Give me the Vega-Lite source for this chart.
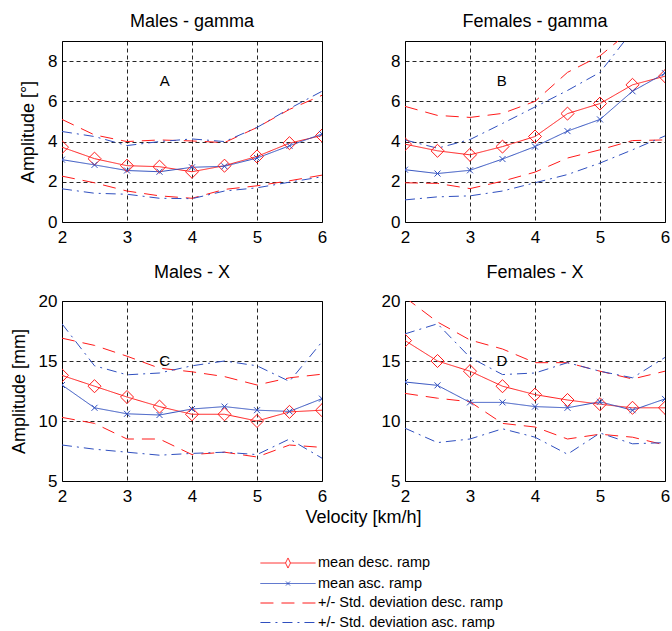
{
  "$schema": "https://vega.github.io/schema/vega-lite/v6.json",
  "padding": {"left": 9, "top": 12, "right": 5, "bottom": 0},
  "datasets": {
    "g": [
      {"p":"A","v":2,"md":3.72,"ma":3.10,"sdu":5.10,"sdl":2.28,"sau":4.50,"sal":1.65},
      {"p":"A","v":2.5,"md":3.15,"ma":2.84,"sdu":4.33,"sdl":1.95,"sau":4.25,"sal":1.43},
      {"p":"A","v":3,"md":2.80,"ma":2.56,"sdu":4.00,"sdl":1.54,"sau":3.80,"sal":1.38},
      {"p":"A","v":3.5,"md":2.75,"ma":2.50,"sdu":4.08,"sdl":1.30,"sau":4.00,"sal":1.18},
      {"p":"A","v":4,"md":2.50,"ma":2.72,"sdu":4.03,"sdl":1.18,"sau":4.13,"sal":1.16},
      {"p":"A","v":4.5,"md":2.80,"ma":2.77,"sdu":3.95,"sdl":1.62,"sau":4.00,"sal":1.54},
      {"p":"A","v":5,"md":3.26,"ma":3.18,"sdu":4.70,"sdl":1.80,"sau":4.70,"sal":1.70},
      {"p":"A","v":5.5,"md":3.92,"ma":3.79,"sdu":5.60,"sdl":2.05,"sau":5.64,"sal":1.98},
      {"p":"A","v":6,"md":4.30,"ma":4.38,"sdu":6.30,"sdl":2.33,"sau":6.50,"sal":2.25},
      {"p":"B","v":2,"md":3.87,"ma":2.60,"sdu":5.75,"sdl":1.95,"sau":4.08,"sal":1.10},
      {"p":"B","v":2.5,"md":3.54,"ma":2.41,"sdu":5.30,"sdl":1.92,"sau":3.67,"sal":1.25},
      {"p":"B","v":3,"md":3.34,"ma":2.57,"sdu":5.20,"sdl":1.66,"sau":4.10,"sal":1.30},
      {"p":"B","v":3.5,"md":3.75,"ma":3.13,"sdu":5.40,"sdl":2.03,"sau":4.90,"sal":1.54},
      {"p":"B","v":4,"md":4.25,"ma":3.75,"sdu":6.00,"sdl":2.48,"sau":5.72,"sal":1.95},
      {"p":"B","v":4.5,"md":5.39,"ma":4.52,"sdu":7.44,"sdl":3.18,"sau":6.54,"sal":2.36},
      {"p":"B","v":5,"md":5.89,"ma":5.10,"sdu":8.26,"sdl":3.59,"sau":7.44,"sal":2.93},
      {"p":"B","v":5.5,"md":6.82,"ma":6.50,"sdu":9.60,"sdl":4.05,"sau":9.50,"sal":3.59},
      {"p":"B","v":6,"md":7.25,"ma":7.40,"sdu":10.5,"sdl":4.08,"sau":10.5,"sal":4.28},
      {"p":"C","v":2,"md":13.8,"ma":13.0,"sdu":16.9,"sdl":10.3,"sau":18.1,"sal":8.0},
      {"p":"C","v":2.5,"md":12.9,"ma":11.1,"sdu":16.3,"sdl":9.8,"sau":14.6,"sal":7.65},
      {"p":"C","v":3,"md":12.0,"ma":10.6,"sdu":15.4,"sdl":8.5,"sau":13.85,"sal":7.4},
      {"p":"C","v":3.5,"md":11.2,"ma":10.5,"sdu":14.4,"sdl":8.5,"sau":14.0,"sal":7.15},
      {"p":"C","v":4,"md":10.56,"ma":11.0,"sdu":14.1,"sdl":7.2,"sau":14.6,"sal":7.3},
      {"p":"C","v":4.5,"md":10.56,"ma":11.2,"sdu":13.7,"sdl":7.4,"sau":15.0,"sal":7.4},
      {"p":"C","v":5,"md":10.0,"ma":10.9,"sdu":13.0,"sdl":7.0,"sau":14.6,"sal":7.2},
      {"p":"C","v":5.5,"md":10.76,"ma":10.8,"sdu":13.6,"sdl":8.0,"sau":13.3,"sal":8.5},
      {"p":"C","v":6,"md":10.9,"ma":11.86,"sdu":13.9,"sdl":7.8,"sau":16.6,"sal":6.9},
      {"p":"D","v":2,"md":16.7,"ma":13.25,"sdu":20.3,"sdl":12.3,"sau":17.26,"sal":9.4},
      {"p":"D","v":2.5,"md":15.0,"ma":12.97,"sdu":18.25,"sdl":11.9,"sau":18.1,"sal":8.2},
      {"p":"D","v":3,"md":14.15,"ma":11.55,"sdu":16.75,"sdl":11.6,"sau":15.3,"sal":8.5},
      {"p":"D","v":3.5,"md":12.9,"ma":11.55,"sdu":16.0,"sdl":9.8,"sau":13.87,"sal":9.35},
      {"p":"D","v":4,"md":12.2,"ma":11.2,"sdu":14.86,"sdl":9.5,"sau":14.0,"sal":8.65},
      {"p":"D","v":4.5,"md":11.75,"ma":11.1,"sdu":14.86,"sdl":8.5,"sau":14.86,"sal":7.23},
      {"p":"D","v":5,"md":11.4,"ma":11.6,"sdu":14.15,"sdl":8.9,"sau":14.15,"sal":9.0},
      {"p":"D","v":5.5,"md":11.1,"ma":10.9,"sdu":13.5,"sdl":8.65,"sau":13.6,"sal":8.1},
      {"p":"D","v":6,"md":11.1,"ma":11.84,"sdu":14.15,"sdl":8.0,"sau":15.3,"sal":8.2}
    ],
    "ann": [
      {"p":"A","v":3.58,"val":7,"t":"A"},
      {"p":"B","v":3.49,"val":7,"t":"B"},
      {"p":"C","v":3.58,"val":15,"t":"C"},
      {"p":"D","v":3.49,"val":15,"t":"D"}
    ]
  },
  "columns": 2,
  "spacing": {"row": 79, "column": 83},
  "bounds": "flush",
  "concat": [
    {
      "width": 260, "height": 181,
      "title": "Males - gamma",
      "layer": [
        {
          "data": {"name": "g"},
          "transform": [{"filter": "datum.p==='A'"}, {"fold": ["md","ma","sdu","sdl","sau","sal"], "as": ["k","val"]}],
          "mark": {"type": "line", "strokeWidth": 1, "clip": true},
          "encoding": {
            "x": {"field": "v", "type": "quantitative", "scale": {"domain": [2,6], "nice": false, "zero": false}, "axis": {"values": [2,3,4,5,6], "format": "d", "title": null}},
            "y": {"field": "val", "type": "quantitative", "scale": {"domain": [0,9], "nice": false, "zero": false}, "axis": {"values": [0,2,4,6,8], "format": "d", "title": "Amplitude [°]"}},
            "color": {"field": "k", "type": "nominal", "scale": {"domain": ["md","ma","sdu","sdl","sau","sal"], "range": ["#ff1a1a","#2f4fbf","#ff1a1a","#ff1a1a","#2f4fbf","#2f4fbf"]},
              "legend": {"title": null, "orient": "none", "legendX": 216, "legendY": 512, "values": ["md","ma","sdu","sau"], "labelExpr": "datum.value==='md'?'mean desc. ramp':datum.value==='ma'?'mean asc. ramp':datum.value==='sdu'?'+/- Std. deviation desc. ramp':'+/- Std. deviation asc. ramp'", "symbolType": {"expr": "datum.value==='md'?'M-2.9,0H-0.26M0.26,0H2.9M-0.26,0L0,-0.53L0.26,0L0,0.53Z':datum.value==='ma'?'M-2.9,0H2.9M-0.21,-0.21L0.21,0.21M-0.21,0.21L0.21,-0.21':'M-2.9,0H2.9'"}}},
            "strokeDash": {"field": "k", "type": "nominal", "scale": {"domain": ["md","ma","sdu","sdl","sau","sal"], "range": [[1,0],[1,0],[13,8],[13,8],[10,5,2,5],[10,5,2,5]]},
              "legend": {"title": null, "orient": "none", "legendX": 216, "legendY": 512, "values": ["md","ma","sdu","sau"], "labelExpr": "datum.value==='md'?'mean desc. ramp':datum.value==='ma'?'mean asc. ramp':datum.value==='sdu'?'+/- Std. deviation desc. ramp':'+/- Std. deviation asc. ramp'", "symbolType": {"expr": "datum.value==='md'?'M-2.9,0H-0.26M0.26,0H2.9M-0.26,0L0,-0.53L0.26,0L0,0.53Z':datum.value==='ma'?'M-2.9,0H2.9M-0.21,-0.21L0.21,0.21M-0.21,0.21L0.21,-0.21':'M-2.9,0H2.9'"}}}
          }
        },
        {
          "data": {"name": "g"},
          "transform": [{"filter": "datum.p==='A'"}, {"fold": ["md"], "as": ["k","val"]}],
          "mark": {"type": "point", "shape": "diamond", "size": 170, "color": "#ff1a1a", "filled": false, "strokeWidth": 1, "opacity": 1, "clip": true},
          "encoding": {"x": {"field": "v", "type": "quantitative"}, "y": {"field": "val", "type": "quantitative"}}
        },
        {
          "data": {"name": "g"},
          "transform": [{"filter": "datum.p==='A'"}, {"fold": ["ma"], "as": ["k","val"]}],
          "mark": {"type": "point", "shape": "M-1,-1L1,1M-1,1L1,-1", "size": 36, "color": "#2f4fbf", "filled": false, "strokeWidth": 1, "opacity": 1, "clip": true},
          "encoding": {"x": {"field": "v", "type": "quantitative"}, "y": {"field": "val", "type": "quantitative"}}
        },
        {
          "data": {"name": "ann"},
          "transform": [{"filter": "datum.p==='A'"}],
          "mark": {"type": "text", "fontSize": 15, "color": "black", "baseline": "middle", "align": "center"},
          "encoding": {"x": {"field": "v", "type": "quantitative"}, "y": {"field": "val", "type": "quantitative"}, "text": {"field": "t"}}
        }
      ]
    },
    {
      "width": 260, "height": 181,
      "title": "Females - gamma",
      "layer": [
        {
          "data": {"name": "g"},
          "transform": [{"filter": "datum.p==='B'"}, {"fold": ["md","ma","sdu","sdl","sau","sal"], "as": ["k","val"]}],
          "mark": {"type": "line", "strokeWidth": 1, "clip": true},
          "encoding": {
            "x": {"field": "v", "type": "quantitative", "scale": {"domain": [2,6], "nice": false, "zero": false}, "axis": {"values": [2,3,4,5,6], "format": "d", "title": null}},
            "y": {"field": "val", "type": "quantitative", "scale": {"domain": [0,9], "nice": false, "zero": false}, "axis": {"values": [0,2,4,6,8], "format": "d", "title": null}},
            "color": {"field": "k", "type": "nominal", "scale": {"domain": ["md","ma","sdu","sdl","sau","sal"], "range": ["#ff1a1a","#2f4fbf","#ff1a1a","#ff1a1a","#2f4fbf","#2f4fbf"]},
              "legend": {"title": null, "orient": "none", "legendX": 216, "legendY": 512, "values": ["md","ma","sdu","sau"], "labelExpr": "datum.value==='md'?'mean desc. ramp':datum.value==='ma'?'mean asc. ramp':datum.value==='sdu'?'+/- Std. deviation desc. ramp':'+/- Std. deviation asc. ramp'", "symbolType": {"expr": "datum.value==='md'?'M-2.9,0H-0.26M0.26,0H2.9M-0.26,0L0,-0.53L0.26,0L0,0.53Z':datum.value==='ma'?'M-2.9,0H2.9M-0.21,-0.21L0.21,0.21M-0.21,0.21L0.21,-0.21':'M-2.9,0H2.9'"}}},
            "strokeDash": {"field": "k", "type": "nominal", "scale": {"domain": ["md","ma","sdu","sdl","sau","sal"], "range": [[1,0],[1,0],[13,8],[13,8],[10,5,2,5],[10,5,2,5]]},
              "legend": {"title": null, "orient": "none", "legendX": 216, "legendY": 512, "values": ["md","ma","sdu","sau"], "labelExpr": "datum.value==='md'?'mean desc. ramp':datum.value==='ma'?'mean asc. ramp':datum.value==='sdu'?'+/- Std. deviation desc. ramp':'+/- Std. deviation asc. ramp'", "symbolType": {"expr": "datum.value==='md'?'M-2.9,0H-0.26M0.26,0H2.9M-0.26,0L0,-0.53L0.26,0L0,0.53Z':datum.value==='ma'?'M-2.9,0H2.9M-0.21,-0.21L0.21,0.21M-0.21,0.21L0.21,-0.21':'M-2.9,0H2.9'"}}}
          }
        },
        {
          "data": {"name": "g"},
          "transform": [{"filter": "datum.p==='B'"}, {"fold": ["md"], "as": ["k","val"]}],
          "mark": {"type": "point", "shape": "diamond", "size": 170, "color": "#ff1a1a", "filled": false, "strokeWidth": 1, "opacity": 1, "clip": true},
          "encoding": {"x": {"field": "v", "type": "quantitative"}, "y": {"field": "val", "type": "quantitative"}}
        },
        {
          "data": {"name": "g"},
          "transform": [{"filter": "datum.p==='B'"}, {"fold": ["ma"], "as": ["k","val"]}],
          "mark": {"type": "point", "shape": "M-1,-1L1,1M-1,1L1,-1", "size": 36, "color": "#2f4fbf", "filled": false, "strokeWidth": 1, "opacity": 1, "clip": true},
          "encoding": {"x": {"field": "v", "type": "quantitative"}, "y": {"field": "val", "type": "quantitative"}}
        },
        {
          "data": {"name": "ann"},
          "transform": [{"filter": "datum.p==='B'"}],
          "mark": {"type": "text", "fontSize": 15, "color": "black", "baseline": "middle", "align": "center"},
          "encoding": {"x": {"field": "v", "type": "quantitative"}, "y": {"field": "val", "type": "quantitative"}, "text": {"field": "t"}}
        }
      ]
    },
    {
      "width": 260, "height": 180,
      "title": "Males - X",
      "layer": [
        {
          "data": {"name": "g"},
          "transform": [{"filter": "datum.p==='C'"}, {"fold": ["md","ma","sdu","sdl","sau","sal"], "as": ["k","val"]}],
          "mark": {"type": "line", "strokeWidth": 1, "clip": true},
          "encoding": {
            "x": {"field": "v", "type": "quantitative", "scale": {"domain": [2,6], "nice": false, "zero": false}, "axis": {"values": [2,3,4,5,6], "format": "d", "title": "Velocity [km/h]", "titleX": 301, "titleY": 27}},
            "y": {"field": "val", "type": "quantitative", "scale": {"domain": [5,20], "nice": false, "zero": false}, "axis": {"values": [5,10,15,20], "format": "d", "title": "Amplitude [mm]"}},
            "color": {"field": "k", "type": "nominal", "scale": {"domain": ["md","ma","sdu","sdl","sau","sal"], "range": ["#ff1a1a","#2f4fbf","#ff1a1a","#ff1a1a","#2f4fbf","#2f4fbf"]},
              "legend": {"title": null, "orient": "none", "legendX": 216, "legendY": 512, "values": ["md","ma","sdu","sau"], "labelExpr": "datum.value==='md'?'mean desc. ramp':datum.value==='ma'?'mean asc. ramp':datum.value==='sdu'?'+/- Std. deviation desc. ramp':'+/- Std. deviation asc. ramp'", "symbolType": {"expr": "datum.value==='md'?'M-2.9,0H-0.26M0.26,0H2.9M-0.26,0L0,-0.53L0.26,0L0,0.53Z':datum.value==='ma'?'M-2.9,0H2.9M-0.21,-0.21L0.21,0.21M-0.21,0.21L0.21,-0.21':'M-2.9,0H2.9'"}}},
            "strokeDash": {"field": "k", "type": "nominal", "scale": {"domain": ["md","ma","sdu","sdl","sau","sal"], "range": [[1,0],[1,0],[13,8],[13,8],[10,5,2,5],[10,5,2,5]]},
              "legend": {"title": null, "orient": "none", "legendX": 216, "legendY": 512, "values": ["md","ma","sdu","sau"], "labelExpr": "datum.value==='md'?'mean desc. ramp':datum.value==='ma'?'mean asc. ramp':datum.value==='sdu'?'+/- Std. deviation desc. ramp':'+/- Std. deviation asc. ramp'", "symbolType": {"expr": "datum.value==='md'?'M-2.9,0H-0.26M0.26,0H2.9M-0.26,0L0,-0.53L0.26,0L0,0.53Z':datum.value==='ma'?'M-2.9,0H2.9M-0.21,-0.21L0.21,0.21M-0.21,0.21L0.21,-0.21':'M-2.9,0H2.9'"}}}
          }
        },
        {
          "data": {"name": "g"},
          "transform": [{"filter": "datum.p==='C'"}, {"fold": ["md"], "as": ["k","val"]}],
          "mark": {"type": "point", "shape": "diamond", "size": 170, "color": "#ff1a1a", "filled": false, "strokeWidth": 1, "opacity": 1, "clip": true},
          "encoding": {"x": {"field": "v", "type": "quantitative"}, "y": {"field": "val", "type": "quantitative"}}
        },
        {
          "data": {"name": "g"},
          "transform": [{"filter": "datum.p==='C'"}, {"fold": ["ma"], "as": ["k","val"]}],
          "mark": {"type": "point", "shape": "M-1,-1L1,1M-1,1L1,-1", "size": 36, "color": "#2f4fbf", "filled": false, "strokeWidth": 1, "opacity": 1, "clip": true},
          "encoding": {"x": {"field": "v", "type": "quantitative"}, "y": {"field": "val", "type": "quantitative"}}
        },
        {
          "data": {"name": "ann"},
          "transform": [{"filter": "datum.p==='C'"}],
          "mark": {"type": "text", "fontSize": 15, "color": "black", "baseline": "middle", "align": "center"},
          "encoding": {"x": {"field": "v", "type": "quantitative"}, "y": {"field": "val", "type": "quantitative"}, "text": {"field": "t"}}
        }
      ]
    },
    {
      "width": 260, "height": 180,
      "title": "Females - X",
      "layer": [
        {
          "data": {"name": "g"},
          "transform": [{"filter": "datum.p==='D'"}, {"fold": ["md","ma","sdu","sdl","sau","sal"], "as": ["k","val"]}],
          "mark": {"type": "line", "strokeWidth": 1, "clip": true},
          "encoding": {
            "x": {"field": "v", "type": "quantitative", "scale": {"domain": [2,6], "nice": false, "zero": false}, "axis": {"values": [2,3,4,5,6], "format": "d", "title": null}},
            "y": {"field": "val", "type": "quantitative", "scale": {"domain": [5,20], "nice": false, "zero": false}, "axis": {"values": [5,10,15,20], "format": "d", "title": null}},
            "color": {"field": "k", "type": "nominal", "scale": {"domain": ["md","ma","sdu","sdl","sau","sal"], "range": ["#ff1a1a","#2f4fbf","#ff1a1a","#ff1a1a","#2f4fbf","#2f4fbf"]},
              "legend": {"title": null, "orient": "none", "legendX": 216, "legendY": 512, "values": ["md","ma","sdu","sau"], "labelExpr": "datum.value==='md'?'mean desc. ramp':datum.value==='ma'?'mean asc. ramp':datum.value==='sdu'?'+/- Std. deviation desc. ramp':'+/- Std. deviation asc. ramp'", "symbolType": {"expr": "datum.value==='md'?'M-2.9,0H-0.26M0.26,0H2.9M-0.26,0L0,-0.53L0.26,0L0,0.53Z':datum.value==='ma'?'M-2.9,0H2.9M-0.21,-0.21L0.21,0.21M-0.21,0.21L0.21,-0.21':'M-2.9,0H2.9'"}}},
            "strokeDash": {"field": "k", "type": "nominal", "scale": {"domain": ["md","ma","sdu","sdl","sau","sal"], "range": [[1,0],[1,0],[13,8],[13,8],[10,5,2,5],[10,5,2,5]]},
              "legend": {"title": null, "orient": "none", "legendX": 216, "legendY": 512, "values": ["md","ma","sdu","sau"], "labelExpr": "datum.value==='md'?'mean desc. ramp':datum.value==='ma'?'mean asc. ramp':datum.value==='sdu'?'+/- Std. deviation desc. ramp':'+/- Std. deviation asc. ramp'", "symbolType": {"expr": "datum.value==='md'?'M-2.9,0H-0.26M0.26,0H2.9M-0.26,0L0,-0.53L0.26,0L0,0.53Z':datum.value==='ma'?'M-2.9,0H2.9M-0.21,-0.21L0.21,0.21M-0.21,0.21L0.21,-0.21':'M-2.9,0H2.9'"}}}
          }
        },
        {
          "data": {"name": "g"},
          "transform": [{"filter": "datum.p==='D'"}, {"fold": ["md"], "as": ["k","val"]}],
          "mark": {"type": "point", "shape": "diamond", "size": 170, "color": "#ff1a1a", "filled": false, "strokeWidth": 1, "opacity": 1, "clip": true},
          "encoding": {"x": {"field": "v", "type": "quantitative"}, "y": {"field": "val", "type": "quantitative"}}
        },
        {
          "data": {"name": "g"},
          "transform": [{"filter": "datum.p==='D'"}, {"fold": ["ma"], "as": ["k","val"]}],
          "mark": {"type": "point", "shape": "M-1,-1L1,1M-1,1L1,-1", "size": 36, "color": "#2f4fbf", "filled": false, "strokeWidth": 1, "opacity": 1, "clip": true},
          "encoding": {"x": {"field": "v", "type": "quantitative"}, "y": {"field": "val", "type": "quantitative"}}
        },
        {
          "data": {"name": "ann"},
          "transform": [{"filter": "datum.p==='D'"}],
          "mark": {"type": "text", "fontSize": 15, "color": "black", "baseline": "middle", "align": "center"},
          "encoding": {"x": {"field": "v", "type": "quantitative"}, "y": {"field": "val", "type": "quantitative"}, "text": {"field": "t"}}
        }
      ]
    }
  ],
  "config": {
    "font": "Liberation Sans",
    "view": {"stroke": "black", "strokeWidth": 1},
    "axis": {"labelFont": "Liberation Sans", "labelFontSize": 17, "labelColor": "black", "ticks": false, "domain": false, "grid": true, "gridColor": "black", "gridDash": [4,3], "gridOpacity": 0.85, "gridWidth": 1, "titleFont": "Liberation Sans", "titleFontSize": 18, "titleFontWeight": "normal", "titleColor": "black", "labelFlush": false, "labelOverlap": false},
    "axisX": {"labelPadding": 7},
    "axisY": {"labelPadding": 5, "titlePadding": 10},
    "title": {"font": "Liberation Sans", "fontSize": 18, "fontWeight": "normal", "color": "black", "offset": 10},
    "legend": {"labelFont": "Liberation Sans", "labelFontSize": 14.5, "labelColor": "black", "labelLimit": 400, "symbolSize": 361, "symbolStrokeWidth": 1, "symbolFillColor": "transparent", "labelOffset": 20, "rowPadding": 2.5, "padding": 0, "direction": "vertical"}
  }
}
